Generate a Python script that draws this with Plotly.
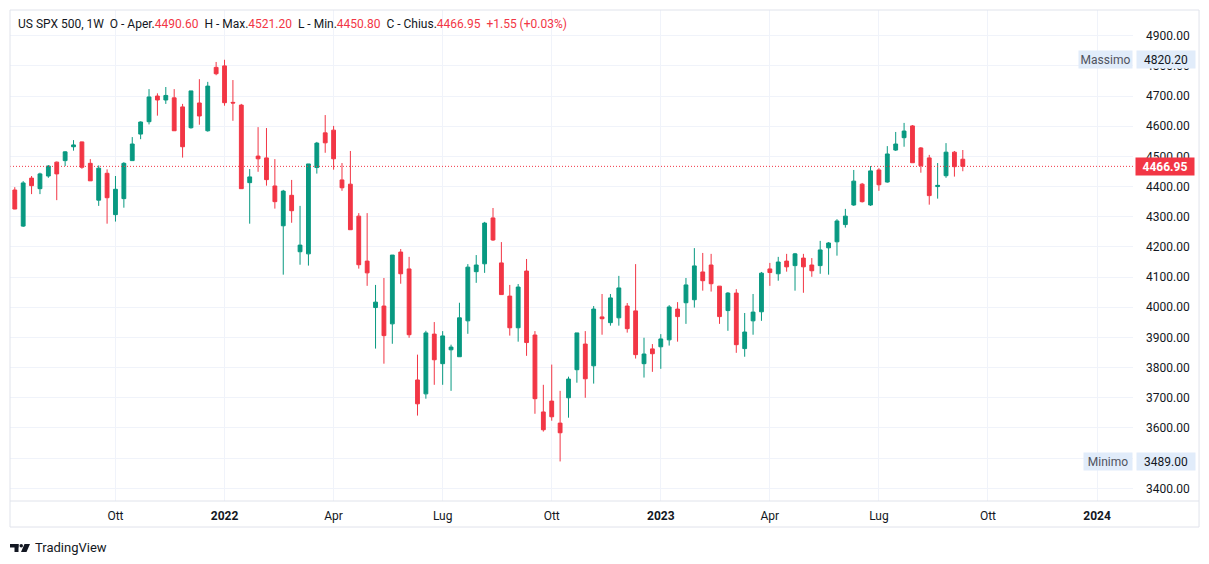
import pandas as pd
import plotly.graph_objects as go

# Weekly candles, US SPX 500 (1W), first bar week of 12 Jul 2021
first_week = '2021-07-12'
n_weeks = 114

open_prices = [
    4388.6, 4269, 4428, 4393, 4435, 4481, 4486, 4532, 4548, 4477,
    4355, 4444, 4307, 4360, 4486, 4574, 4615, 4700, 4687, 4694,
    4664, 4595, 4677, 4585, 4795, 4800, 4679, 4670, 4413, 4501,
    4495, 4402, 4270, 4371, 4184, 4177, 4463, 4578, 4587, 4422,
    4408, 4302, 4153, 3999, 4004, 3945, 4183, 4127, 3759, 3713,
    3911, 3813, 3859, 3836, 3955, 4118, 4144, 4296, 4147, 4037,
    3932, 4120, 3908, 3653, 3689, 3616, 3700, 3793, 3878, 3806,
    3968, 3949, 3965, 4004, 3988, 3813, 3862, 3869, 3892, 3994,
    4015, 4025, 4117, 4140, 4070, 3989, 4047, 3863, 3955, 3985,
    4127, 4111, 4153, 4138, 4163, 4140, 4138, 4197, 4217, 4274,
    4339, 4408, 4339, 4455, 4415, 4521, 4562, 4601, 4528, 4495,
    4400, 4436, 4514, 4490.6,
]
high_prices = [
    4398, 4418, 4435, 4446, 4471, 4483, 4517, 4554, 4549, 4491,
    4470, 4457, 4435, 4481, 4564, 4616, 4723, 4709, 4730, 4723,
    4674, 4717, 4756, 4747, 4813, 4820.2, 4753, 4674, 4458, 4597,
    4594, 4491, 4389, 4422, 4336, 4475, 4548, 4637, 4601, 4478,
    4518, 4312, 4312, 4074, 4097, 4173, 4193, 4167, 3843, 3922,
    3951, 3921, 3876, 4015, 4143, 4173, 4283, 4329, 4216, 4074,
    4077, 4160, 3921, 3743, 3810, 3723, 3770, 3915, 3921, 4004,
    4044, 4044, 4104, 4014, 4143, 3899, 3878, 3911, 4007, 4017,
    4097, 4196, 4180, 4177, 4070, 4050, 4060, 3981, 4044, 4117,
    4147, 4167, 4177, 4180, 4177, 4163, 4220, 4216, 4292, 4326,
    4455, 4412, 4468, 4461, 4534, 4581, 4611, 4604, 4531, 4505,
    4478, 4544, 4518, 4521.2,
]
low_prices = [
    4325, 4266, 4375, 4375, 4429, 4355, 4468, 4519, 4459, 4419,
    4336, 4277, 4284, 4330, 4486, 4557, 4606, 4635, 4674, 4585,
    4496, 4592, 4605, 4582, 4769, 4668, 4618, 4393, 4277, 4449,
    4403, 4327, 4108, 4280, 4141, 4138, 4443, 4512, 4456, 4386,
    4257, 4128, 4071, 3863, 3813, 3879, 4078, 3899, 3641, 3697,
    3743, 3743, 3723, 3836, 3912, 4081, 4114, 4220, 4042, 3906,
    3886, 3839, 3647, 3588, 3624, 3489, 3634, 3750, 3700, 3747,
    3909, 3939, 3939, 3916, 3830, 3767, 3786, 3796, 3873, 3886,
    3945, 3999, 4055, 4052, 3945, 3922, 3849, 3836, 3909, 3955,
    4071, 4088, 4118, 4055, 4048, 4101, 4111, 4108, 4171, 4264,
    4336, 4347, 4336, 4386, 4413, 4518, 4532, 4479, 4446, 4340,
    4360, 4429, 4433, 4450.8,
]
close_prices = [
    4325.6, 4412, 4403, 4442, 4468, 4442, 4515, 4538, 4464, 4419,
    4461, 4363, 4391, 4477, 4541, 4614, 4697, 4687, 4702, 4585,
    4532, 4717, 4634, 4733, 4774, 4678, 4677, 4393, 4432, 4492,
    4423, 4350, 4385, 4320, 4206, 4475, 4544, 4545, 4492, 4396,
    4257, 4141, 4114, 4017, 3906, 4173, 4111, 3909, 3680, 3915,
    3826, 3905, 3868, 3965, 4133, 4140, 4279, 4223, 4042, 3932,
    4067, 3883, 3697, 3594, 3637, 3584, 3762, 3915, 3763, 3994,
    3962, 4031, 4064, 3929, 3843, 3845, 3846, 3895, 4001, 3969,
    4074, 4137, 4088, 4078, 3969, 4047, 3876, 3918, 3984, 4113,
    4115, 4150, 4134, 4177, 4134, 4121, 4190, 4213, 4286, 4302,
    4418, 4350, 4452, 4406, 4508, 4541, 4584, 4479, 4469, 4370,
    4404, 4514, 4466, 4466.95,
]

tick_dates = ['2021-10-04', '2022-01-03', '2022-04-04', '2022-07-04', '2022-10-03',
              '2023-01-02', '2023-04-03', '2023-07-03', '2023-10-02', '2024-01-01']
tick_labels = ['Ott', '<b>2022</b>', 'Apr', 'Lug', 'Ott', '<b>2023</b>', 'Apr', 'Lug', 'Ott', '<b>2024</b>']
price_ticks = [3400, 3500, 3600, 3700, 3800, 3900, 4000, 4100, 4200, 4300, 4400, 4500, 4600, 4700, 4800, 4900]

last_price = 4466.95
max_price = 4820.20
min_price = 3489.00

GREEN = '#089981'
RED = '#F23645'
TEXT = '#131722'
GRID = '#F0F3FA'
BORDER = '#E0E3EB'
LABEL_BG = '#E1ECFA'
FONT = 'Roboto, "Trebuchet MS", sans-serif'

dates = pd.date_range(first_week, periods=n_weeks, freq='7D')

fig = go.Figure()
fig.add_trace(go.Candlestick(
    x=dates,
    open=open_prices,
    high=high_prices,
    low=low_prices,
    close=close_prices,
    increasing=dict(line=dict(color=GREEN, width=1), fillcolor=GREEN),
    decreasing=dict(line=dict(color=RED, width=1), fillcolor=RED),
    whiskerwidth=0,
    showlegend=False,
))

# last price dotted line
fig.add_shape(type='line', xref='paper', yref='y', x0=0, x1=1, y0=last_price, y1=last_price,
              line=dict(color=RED, width=1, dash='1px,2px'))

# chart frame (plot area + scales)
fig.add_shape(type='rect', xref='paper', yref='paper', x0=0, x1=1.0588, y0=-0.053, y1=1,
              line=dict(color=BORDER, width=1), layer='above')
fig.add_shape(type='line', xref='paper', yref='paper', x0=0, x1=1.0588, y0=0, y1=0,
              line=dict(color=BORDER, width=1), layer='above')

# header
header = ('US SPX 500, 1W&nbsp;&nbsp;O - Aper.<span style="color:%s">4490.60</span>&nbsp;&nbsp;'
          'H - Max.<span style="color:%s">4521.20</span>&nbsp;&nbsp;'
          'L - Min.<span style="color:%s">4450.80</span>&nbsp;&nbsp;'
          'C - Chius.<span style="color:%s">4466.95</span>&nbsp;&nbsp;'
          '<span style="color:%s">+1.55 (+0.03%%)</span>') % (RED, RED, RED, RED, RED)
fig.add_annotation(text=header, xref='paper', yref='paper', x=0.0053, y=0.971,
                   xanchor='left', yanchor='middle', showarrow=False,
                   font=dict(size=12, color=TEXT, family=FONT))

# price scale labels
fig.add_annotation(text='<b>4466.95</b>', xref='paper', yref='y', x=1.0018, y=last_price,
                   xanchor='left', yanchor='middle', showarrow=False, bgcolor=RED,
                   width=58, height=17, borderpad=0, font=dict(size=12, color='white', family=FONT))
fig.add_annotation(text='4820.20', xref='paper', yref='y', x=1.0027, y=max_price,
                   xanchor='left', yanchor='middle', showarrow=False, bgcolor=LABEL_BG,
                   width=58, height=17, borderpad=0, font=dict(size=12, color=TEXT, family=FONT))
fig.add_annotation(text='Massimo', xref='paper', yref='y', x=1.0, y=max_price,
                   xanchor='right', yanchor='middle', showarrow=False, bgcolor=LABEL_BG,
                   width=53, height=17, borderpad=0, font=dict(size=12, color='#50535E', family=FONT))
fig.add_annotation(text='3489.00', xref='paper', yref='y', x=1.0027, y=min_price,
                   xanchor='left', yanchor='middle', showarrow=False, bgcolor=LABEL_BG,
                   width=58, height=17, borderpad=0, font=dict(size=12, color=TEXT, family=FONT))
fig.add_annotation(text='Minimo', xref='paper', yref='y', x=1.0, y=min_price,
                   xanchor='right', yanchor='middle', showarrow=False, bgcolor=LABEL_BG,
                   width=48, height=17, borderpad=0, font=dict(size=12, color='#50535E', family=FONT))

# TradingView logo + text
logo = [
    dict(type='rect', x0=10, x1=18.5, y0=544, y1=547.5),
    dict(type='rect', x0=14.5, x1=18.5, y0=544, y1=552),
    dict(type='circle', x0=19.5, x1=23, y0=544, y1=547.5),
    dict(type='path', path='M 24.5 544 L 30 544 L 26.5 552 L 21 552 Z'),
]
for s in logo:
    s.update(xref='paper', yref='paper', fillcolor=TEXT, line=dict(width=0))
    for k in ('x0', 'x1'):
        if k in s:
            s[k] = (s[k] - 10) / 1123
    for k in ('y0', 'y1'):
        if k in s:
            s[k] = (501 - s[k]) / 491
    if 'path' in s:
        pts = s['path'].split()
        out = []
        i = 0
        while i < len(pts):
            if pts[i] in ('M', 'L'):
                out += [pts[i], '%.5f' % ((float(pts[i + 1]) - 10) / 1123),
                        '%.5f' % ((501 - float(pts[i + 2])) / 491)]
                i += 3
            else:
                out.append(pts[i])
                i += 1
        s['path'] = ' '.join(out)
    fig.add_shape(**s)
fig.add_annotation(text='TradingView', xref='paper', yref='paper', x=(33 - 10) / 1123,
                   y=(501 - 547) / 491, xanchor='left', yanchor='middle', showarrow=False,
                   font=dict(size=13, color=TEXT, family=FONT))

fig.update_layout(
    width=1209, height=564,
    margin=dict(l=10, r=76, t=10, b=63),
    paper_bgcolor='white', plot_bgcolor='white',
    font=dict(family=FONT, size=12, color=TEXT),
    boxgap=0.35,
    xaxis=dict(
        type='date', range=['2021-07-08', '2024-01-31'],
        tickvals=tick_dates, ticktext=tick_labels,
        showgrid=True, gridcolor=GRID, gridwidth=1,
        zeroline=False, showline=False, ticks='',
        ticklabelstandoff=6,
        rangeslider=dict(visible=False),
        fixedrange=True,
    ),
    yaxis=dict(
        side='right', range=[3357.9, 4985.2],
        tickvals=price_ticks, tickformat='.2f',
        showgrid=True, gridcolor=GRID, gridwidth=1,
        zeroline=False, showline=False, ticks='',
        ticklabelstandoff=12,
        fixedrange=True,
    ),
    hovermode=False,
)

# page body has a default 8px margin; drop it so the chart sits at the window origin
fig.write_html('out.html', config={'displayModeBar': False},
               post_script="document.body.style.margin='0';")
